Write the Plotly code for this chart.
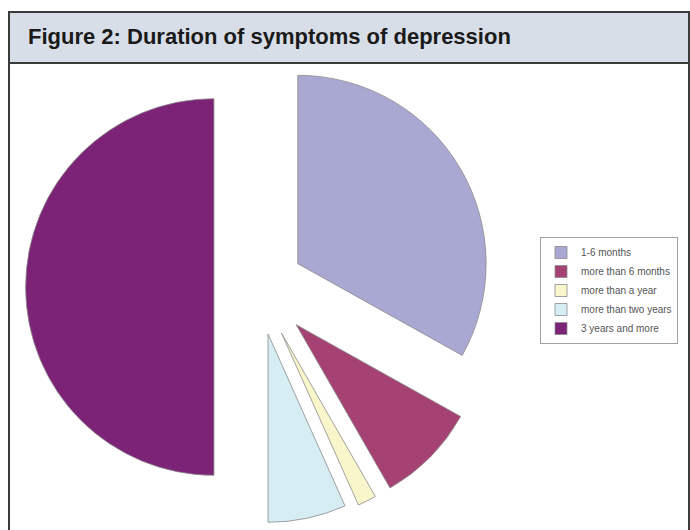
import plotly.graph_objects as go

W, H = 690, 530

categories = ["1-6 months", "more than 6 months", "more than a year",
              "more than two years", "3 years and more"]
values = [33.1, 8.6, 1.6, 6.7, 50.0]
pulls = [0.245, 0.285, 0.275, 0.255, 0.234]
colors = ["#a9a8d3", "#a64273", "#faf6cc", "#d7edf4", "#7c2377"]
title_text = "Figure 2: Duration of symptoms of depression"

def px(x):
    return x / W

def py(y):
    return 1 - y / H

cx, cy, half = 258, 287, 242
fig = go.Figure(go.Pie(
    labels=categories, values=values, pull=pulls, sort=False,
    direction="clockwise", rotation=0,
    marker=dict(colors=colors, line=dict(color="#8a8a8a", width=0.8)),
    textinfo="none", hoverinfo="label+percent",
    domain=dict(x=[px(cx - half), px(cx + half)],
                y=[max(0, py(cy + half)), min(1, py(cy - half))]),
))

shapes = [
    dict(type="rect", xref="paper", yref="paper", x0=px(9), x1=px(689), y0=py(63), y1=py(12),
         fillcolor="#d8dee8", line=dict(color="#3b3b3b", width=2), layer="below"),
    dict(type="line", xref="paper", yref="paper", x0=px(9), x1=px(9), y0=py(63), y1=0,
         line=dict(color="#3b3b3b", width=2)),
    dict(type="line", xref="paper", yref="paper", x0=px(689), x1=px(689), y0=py(63), y1=0,
         line=dict(color="#3b3b3b", width=2)),
]

fig.update_layout(
    width=W, height=H, margin=dict(l=0, r=0, t=0, b=0),
    paper_bgcolor="white", plot_bgcolor="white",
    shapes=shapes,
    annotations=[dict(text="<b>" + title_text + "</b>", xref="paper", yref="paper",
                      x=px(26), y=py(37), xanchor="left", yanchor="middle", showarrow=False,
                      font=dict(family="Liberation Sans, Arial, sans-serif", size=22, color="#1a1a1a"))],
    showlegend=True,
    legend=dict(x=px(540), y=py(237), xanchor="left", yanchor="top",
                bordercolor="#a0a0a0", borderwidth=1, bgcolor="white",
                font=dict(family="Liberation Sans, Arial, sans-serif", size=10, color="#555555"),
                itemwidth=30, tracegroupgap=0),
)

fig.write_html("out.html")
